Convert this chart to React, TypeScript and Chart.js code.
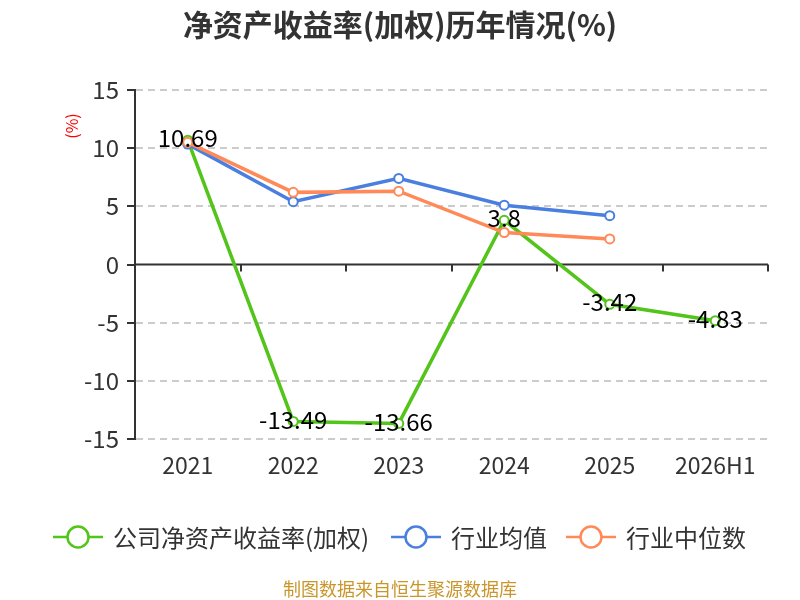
import React, { useEffect, useRef } from "react";
import { Chart, registerables } from "chart.js";

Chart.register(...registerables);

const categories = ["2021", "2022", "2023", "2024", "2025", "2026H1"];
const companyROE: (number | null)[] = [10.69, -13.49, -13.66, 3.8, -3.42, -4.83];
const industryAvg: (number | null)[] = [10.35, 5.4, 7.4, 5.1, 4.2, null];
const industryMedian: (number | null)[] = [10.5, 6.2, 6.3, 2.75, 2.2, null];
const seriesNames = ["公司净资产收益率(加权)", "行业均值", "行业中位数"];
const seriesColors = ["#52c41a", "#4a7fe0", "#ff8a57"];
const yMin = -15;
const yMax = 15;
const yStep = 5;

const FONT = '"Noto Sans CJK SC", "Noto Sans", sans-serif';

const decorPlugin = {
  id: "decor",
  beforeDatasetsDraw(chart: any) {
    const { ctx, chartArea, scales } = chart;
    const y0 = scales.y.getPixelForValue(0);
    ctx.save();
    ctx.strokeStyle = "#333";
    ctx.lineWidth = 2;
    ctx.beginPath();
    ctx.moveTo(chartArea.left, y0);
    ctx.lineTo(chartArea.right, y0);
    const n = categories.length;
    const w = (chartArea.right - chartArea.left) / n;
    for (let i = 0; i <= n; i++) {
      const x = Math.round(chartArea.left + i * w);
      ctx.moveTo(x, y0);
      ctx.lineTo(x, y0 + 7);
    }
    ctx.stroke();
    // axis unit
    ctx.translate(72, 126);
    ctx.rotate(-Math.PI / 2);
    ctx.fillStyle = "#ff0000";
    ctx.font = `16px ${FONT}`;
    ctx.textAlign = "center";
    ctx.textBaseline = "middle";
    ctx.fillText("(%)", 0, 0);
    ctx.restore();
  },
  afterDatasetsDraw(chart: any) {
    const { ctx } = chart;
    const meta = chart.getDatasetMeta(0);
    ctx.save();
    ctx.fillStyle = "#000";
    ctx.font = `24px ${FONT}`;
    ctx.textAlign = "center";
    ctx.textBaseline = "middle";
    meta.data.forEach((pt: any, i: number) => {
      const v = companyROE[i];
      if (v === null) return;
      ctx.fillText(String(v), pt.x, pt.y - 2);
    });
    ctx.restore();
  },
};

function LegendMarker({ color }: { color: string }) {
  return (
    <svg width={50} height={26} style={{ display: "block" }}>
      <line x1={0} y1={13} x2={50} y2={13} stroke={color} strokeWidth={2.5} />
      <circle cx={25} cy={13} r={10.5} fill="#fff" stroke={color} strokeWidth={2.5} />
    </svg>
  );
}

export default function App() {
  const ref = useRef<HTMLCanvasElement | null>(null);

  useEffect(() => {
    if (!ref.current) return;
    const ds = (label: string, data: (number | null)[], color: string, order: number) => ({
      label,
      data,
      borderColor: color,
      backgroundColor: "#fff",
      pointBackgroundColor: "#fff",
      pointBorderColor: color,
      pointBorderWidth: 2,
      pointRadius: 4.5,
      borderWidth: 3.5,
      tension: 0,
      spanGaps: false,
      order,
    });
    const chart = new Chart(ref.current, {
      type: "line",
      data: {
        labels: categories,
        datasets: [
          ds(seriesNames[0], companyROE, seriesColors[0], 2),
          ds(seriesNames[1], industryAvg, seriesColors[1], 1),
          ds(seriesNames[2], industryMedian, seriesColors[2], 0),
        ],
      },
      options: {
        responsive: false,
        animation: false,
        devicePixelRatio: 1,
        layout: { padding: { left: 0, right: 32, top: 90, bottom: 121 } },
        plugins: {
          legend: { display: false },
          title: { display: false },
          tooltip: { enabled: false },
        },
        scales: {
          x: {
            offset: true,
            grid: { display: false, drawTicks: false },
            border: { display: false },
            ticks: {
              color: "#333",
              font: { size: 23, family: FONT },
              padding: 12,
              maxRotation: 0,
              autoSkip: false,
            },
            afterFit(scale: any) {
              scale.height = 40;
            },
          },
          y: {
            min: yMin,
            max: yMax,
            ticks: {
              stepSize: yStep,
              color: "#333",
              font: { size: 24, family: FONT },
              padding: 8,
            },
            grid: {
              color: (c: any) => (c.tick && c.tick.value === 0 ? "rgba(0,0,0,0)" : "#cccccc"),
              lineWidth: 2,
              drawTicks: true,
              tickLength: 8,
              tickColor: "#333",
              tickWidth: 2,
              tickBorderDash: [],
            },
            border: { display: true, color: "#333", width: 2, dash: [7, 5] },
            afterFit(scale: any) {
              scale.width = 135;
            },
          },
        },
      },
      plugins: [decorPlugin],
    });
    return () => chart.destroy();
  }, []);

  const legendItems = [
    { x: 53, name: seriesNames[0], color: seriesColors[0] },
    { x: 391, name: seriesNames[1], color: seriesColors[1] },
    { x: 566, name: seriesNames[2], color: seriesColors[2] },
  ];

  return (
    <div style={{ position: "absolute", left: 0, top: 0, width: 800, height: 600, background: "#fff", fontFamily: FONT }}>
      <canvas ref={ref} width={800} height={600} style={{ position: "absolute", left: 0, top: 0, width: 800, height: 600 }} />
      <div
        style={{
          position: "absolute",
          left: 0,
          top: 3,
          width: 800,
          textAlign: "center",
          fontSize: 30,
          fontWeight: "bold",
          color: "#333",
          lineHeight: "40px",
        }}
      >
        净资产收益率(加权)历年情况(%)
      </div>
      {legendItems.map((it) => (
        <div key={it.name} style={{ position: "absolute", left: it.x, top: 521, height: 32, display: "flex", alignItems: "center" }}>
          <LegendMarker color={it.color} />
          <span style={{ marginLeft: 10, fontSize: 24, color: "#333", lineHeight: "32px", whiteSpace: "nowrap" }}>{it.name}</span>
        </div>
      ))}
      <div
        style={{
          position: "absolute",
          left: 0,
          top: 576,
          width: 800,
          textAlign: "center",
          fontSize: 18,
          color: "#c9962c",
          lineHeight: "24px",
        }}
      >
        制图数据来自恒生聚源数据库
      </div>
    </div>
  );
}
